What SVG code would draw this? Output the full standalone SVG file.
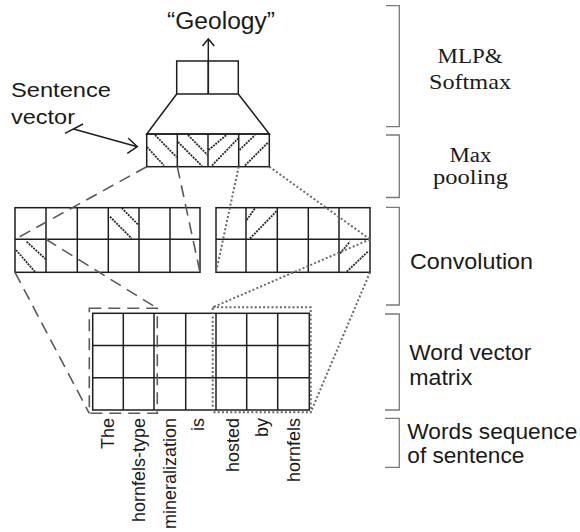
<svg xmlns="http://www.w3.org/2000/svg" width="580" height="532" viewBox="0 0 580 532">
<style>
.g{fill:none;stroke:#1e1e1e;stroke-width:1.5}
.h{fill:none;stroke:#2a2a2a;stroke-width:1.8;stroke-dasharray:2 1}
.dash{fill:none;stroke:#5a5a5a;stroke-width:1.6;stroke-dasharray:12 7}
.dot{fill:none;stroke:#6a6a6a;stroke-width:2;stroke-dasharray:2 2.2}
.br{fill:none;stroke:#7a7a7a;stroke-width:1.3}
.sans{font-family:"Liberation Sans",Arial,sans-serif;fill:#1a1a1a}
.serif{font-family:"Liberation Serif","Times New Roman",serif;fill:#1a1a1a}
.w{font-family:"Liberation Sans",Arial,sans-serif;font-size:18px;fill:#1a1a1a;text-anchor:end}
</style>
<rect width="580" height="532" fill="#fff"/>

<g id="output">
<text class="sans" x="221" y="29" font-size="23" text-anchor="middle" textLength="108" lengthAdjust="spacingAndGlyphs">“Geology”</text>
<line class="g" x1="208.3" y1="94" x2="208.3" y2="39"/>
<polyline class="g" points="202.5,46 208.3,39 214.3,46"/>
</g>

<g id="mlp">
<rect class="g" x="176.7" y="61" width="61.6" height="33"/>
<line class="g" x1="208.3" y1="61" x2="208.3" y2="94"/>
<polyline class="g" points="176.7,94 146.7,134 269.3,134 238.3,94"/>
</g>

<g id="pooling">
<rect class="g" x="146.7" y="134" width="122.6" height="32.7"/>
<line class="g" x1="177.3" y1="134" x2="177.3" y2="166.7"/>
<line class="g" x1="208" y1="134" x2="208" y2="166.7"/>
<line class="g" x1="238.7" y1="134" x2="238.7" y2="166.7"/>
<line class="h" x1="147" y1="147" x2="164" y2="165.5"/>
<line class="h" x1="155" y1="135" x2="176.5" y2="157"/>
<line class="h" x1="178" y1="142" x2="202" y2="166"/>
<line class="h" x1="188" y1="135" x2="207.5" y2="155"/>
<line class="h" x1="208.5" y1="150" x2="226.5" y2="135"/>
<line class="h" x1="212" y1="165.5" x2="238" y2="138.5"/>
<line class="h" x1="239.5" y1="150" x2="255" y2="135"/>
<line class="h" x1="245" y1="165.5" x2="268.5" y2="142"/>
</g>

<g id="sentence-vector">
<text class="sans" x="11" y="96.5" font-size="21" textLength="100" lengthAdjust="spacingAndGlyphs">Sentence</text>
<text class="sans" x="11" y="124" font-size="21" textLength="64" lengthAdjust="spacingAndGlyphs">vector</text>
<line class="g" x1="65" y1="133.3" x2="83" y2="124"/>
<line class="g" x1="73.5" y1="129" x2="136.5" y2="146.5"/>
<polyline class="g" points="128.3,138.3 137.3,146.7 127.3,153.3"/>
</g>

<g id="conv-left">
<rect class="g" x="15" y="207.7" width="185" height="64.6"/>
<line class="g" x1="15" y1="239.3" x2="200" y2="239.3"/>
<line class="g" x1="46" y1="207.7" x2="46" y2="272.3"/>
<line class="g" x1="77.3" y1="207.7" x2="77.3" y2="272.3"/>
<line class="g" x1="108.3" y1="207.7" x2="108.3" y2="272.3"/>
<line class="g" x1="139" y1="207.7" x2="139" y2="272.3"/>
<line class="g" x1="170" y1="207.7" x2="170" y2="272.3"/>
<line class="h" x1="110" y1="216.7" x2="131.7" y2="238.5"/>
<line class="h" x1="121.7" y1="208" x2="138.5" y2="225"/>
<line class="h" x1="16" y1="250" x2="35" y2="271.7"/>
<line class="h" x1="26.7" y1="241.7" x2="45.5" y2="259"/>
</g>

<g id="conv-right">
<rect class="g" x="216" y="207.7" width="154" height="64.6"/>
<line class="g" x1="216" y1="239.3" x2="370" y2="239.3"/>
<line class="g" x1="246" y1="207.7" x2="246" y2="272.3"/>
<line class="g" x1="277.3" y1="207.7" x2="277.3" y2="272.3"/>
<line class="g" x1="308.3" y1="207.7" x2="308.3" y2="272.3"/>
<line class="g" x1="339" y1="207.7" x2="339" y2="272.3"/>
<line class="h" x1="246.7" y1="220" x2="255" y2="208.3"/>
<line class="h" x1="250" y1="238.5" x2="276.7" y2="211"/>
<line class="h" x1="340" y1="253.3" x2="350" y2="241.7"/>
<line class="h" x1="346.7" y1="271.7" x2="368.5" y2="251"/>
</g>

<g id="word-matrix">
<rect class="g" x="92.7" y="313.3" width="216.6" height="96.7"/>
<line class="g" x1="92.7" y1="345.5" x2="309.3" y2="345.5"/>
<line class="g" x1="92.7" y1="377.7" x2="309.3" y2="377.7"/>
<line class="g" x1="123.3" y1="313.3" x2="123.3" y2="410"/>
<line class="g" x1="154" y1="313.3" x2="154" y2="410"/>
<line class="g" x1="185.7" y1="313.3" x2="185.7" y2="410"/>
<line class="g" x1="216" y1="313.3" x2="216" y2="410"/>
<line class="g" x1="246.7" y1="313.3" x2="246.7" y2="410"/>
<line class="g" x1="277.7" y1="313.3" x2="277.7" y2="410"/>
<rect class="dash" x="89.3" y="308.3" width="68" height="105" stroke-dasharray="14 6"/>
<rect class="dot" x="212.7" y="307.3" width="98" height="105"/>
</g>

<g id="words">
<text class="w" transform="translate(113.5,418) rotate(-90)">The</text>
<text class="w" transform="translate(144.5,418) rotate(-90)">hornfels-type</text>
<text class="w" transform="translate(176,418) rotate(-90)">mineralization</text>
<text class="w" transform="translate(204,418) rotate(-90)">is</text>
<text class="w" transform="translate(239,418) rotate(-90)">hosted</text>
<text class="w" transform="translate(268,418) rotate(-90)">by</text>
<text class="w" transform="translate(300,418) rotate(-90)">hornfels</text>
</g>

<g id="connectors">
<line class="dash" x1="146.7" y1="166.7" x2="15" y2="239.3"/>
<line class="dash" x1="177.3" y1="166.7" x2="200" y2="272.3"/>
<line class="dash" x1="46" y1="239.3" x2="157.3" y2="308.3"/>
<line class="dash" x1="15" y1="272.3" x2="89.3" y2="413.3"/>
<line class="dot" x1="238.7" y1="166.7" x2="216" y2="272.3"/>
<line class="dot" x1="269.3" y1="166.7" x2="370" y2="239.3"/>
<line class="dot" x1="370" y1="239.3" x2="212.7" y2="307.3"/>
<line class="dot" x1="370" y1="272.3" x2="310.7" y2="412.3"/>
</g>

<g id="labels">
<polyline class="br" points="386,5.7 399.3,5.7 399.3,126.7 386,126.7"/>
<text class="serif" x="470" y="63.3" font-size="22" text-anchor="middle" textLength="65" lengthAdjust="spacingAndGlyphs">MLP&amp;</text>
<text class="serif" x="470" y="89.3" font-size="22" text-anchor="middle" textLength="82" lengthAdjust="spacingAndGlyphs">Softmax</text>
<polyline class="br" points="386,135 399.3,135 399.3,197.5 386,197.5"/>
<text class="serif" x="470.5" y="161.7" font-size="20" text-anchor="middle" textLength="42" lengthAdjust="spacingAndGlyphs">Max</text>
<text class="serif" x="470.5" y="184" font-size="20" text-anchor="middle" textLength="75" lengthAdjust="spacingAndGlyphs">pooling</text>
<polyline class="br" points="386,207.3 399.3,207.3 399.3,305 386,305"/>
<text class="sans" x="410" y="269.3" font-size="22" textLength="123" lengthAdjust="spacingAndGlyphs">Convolution</text>
<polyline class="br" points="385,314 399.3,314 399.3,410 385,410"/>
<text class="sans" x="409.3" y="360" font-size="22" textLength="122" lengthAdjust="spacingAndGlyphs">Word vector</text>
<text class="sans" x="409.3" y="385" font-size="22" textLength="63" lengthAdjust="spacingAndGlyphs">matrix</text>
<polyline class="br" points="385,418.3 399.3,418.3 399.3,467.3 385,467.3"/>
<text class="sans" x="407.3" y="439.3" font-size="22" textLength="170" lengthAdjust="spacingAndGlyphs">Words sequence</text>
<text class="sans" x="407.3" y="463.3" font-size="22" textLength="117" lengthAdjust="spacingAndGlyphs">of sentence</text>
</g>
</svg>
